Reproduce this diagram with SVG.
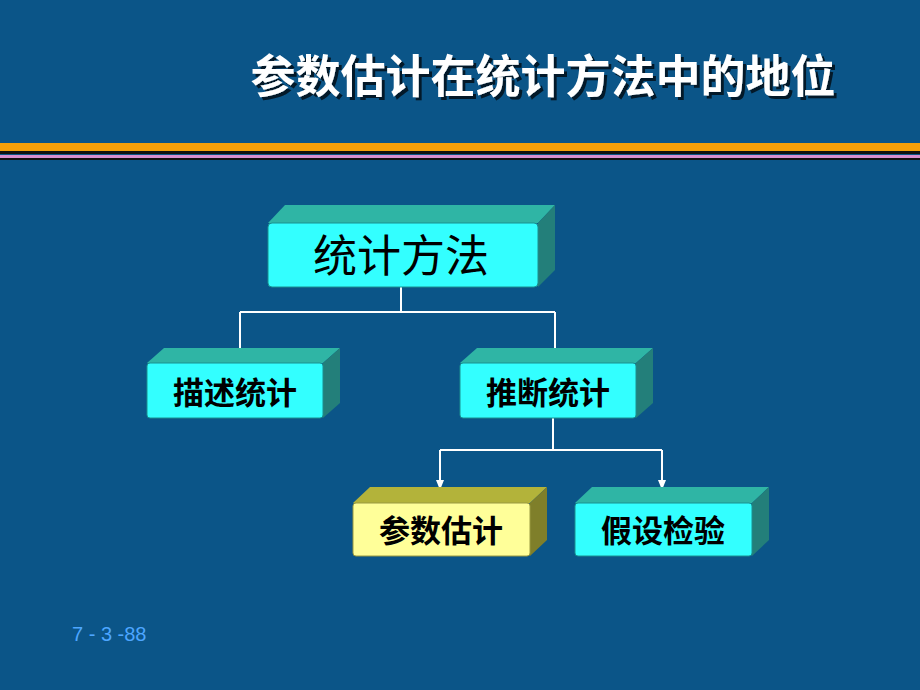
<svg xmlns="http://www.w3.org/2000/svg" width="920" height="690" viewBox="0 0 920 690">
<defs>
<style>
.t{font-family:"Liberation Sans","Noto Sans CJK SC",sans-serif;font-weight:bold;fill:#000;text-anchor:middle}
.f{fill:#33ffff;stroke:#1a9090;stroke-width:1}
.tp{fill:#2fb5a5}
.sd{fill:#237f7a}
.c{stroke:#fff;stroke-width:2;fill:none}
</style>
<filter id="sh" x="-5%" y="-20%" width="110%" height="140%"><feDropShadow dx="3" dy="3" stdDeviation="0.5" flood-color="#000" flood-opacity="0.7"/></filter>
<marker id="a" markerWidth="10" markerHeight="10" refX="9" refY="5" orient="auto" markerUnits="userSpaceOnUse" viewBox="0 0 10 10"><path d="M0,1 L10,5 L0,9 z" fill="#fff"/></marker>
</defs>
<rect width="920" height="690" fill="#0b5588"/>
<text x="543" y="93" font-family="Liberation Sans,Noto Sans CJK SC,sans-serif" font-size="45" font-weight="bold" fill="#fff" text-anchor="middle" filter="url(#sh)">参数估计在统计方法中的地位</text>
<rect x="0" y="143" width="920" height="8" fill="#f5a00a"/>
<rect x="0" y="151" width="920" height="3" fill="#111"/>
<rect x="0" y="155" width="920" height="3" fill="#d98ecf"/>
<rect x="0" y="158" width="920" height="2" fill="#111"/>
<g id="connectors">
<path class="c" d="M401,287 V312 M240,312 H555"/>
<path class="c" d="M240,312 V358" marker-end="url(#a)"/>
<path class="c" d="M555,312 V358" marker-end="url(#a)"/>
<path class="c" d="M553,418 V450 M440,450 H662"/>
<path class="c" d="M440,450 V489" marker-end="url(#a)"/>
<path class="c" d="M662,450 V489" marker-end="url(#a)"/>
</g>
<g id="n1">
<polygon class="tp" points="268,223 285,205 555,205 538,223"/>
<polygon class="sd" points="538,223 555,205 555,270 538,287"/>
<rect class="f" x="268" y="223" width="270" height="64" rx="4"/>
<text class="t" x="401" y="272" font-size="44" style="font-weight:normal">统计方法</text>
</g>
<g id="n2">
<polygon class="tp" points="147,363 164,348 340,348 323,363"/>
<polygon class="sd" points="323,363 340,348 340,403 323,418"/>
<rect class="f" x="147" y="363" width="176" height="55" rx="3"/>
<text class="t" x="235" y="404" font-size="31">描述统计</text>
</g>
<g id="n3">
<polygon class="tp" points="460,363 477,348 653,348 636,363"/>
<polygon class="sd" points="636,363 653,348 653,403 636,418"/>
<rect class="f" x="460" y="363" width="176" height="55" rx="3"/>
<text class="t" x="548" y="404" font-size="31">推断统计</text>
</g>
<g id="n4">
<polygon points="353,503 370,487 547,487 530,503" fill="#b3b33a"/>
<polygon points="530,503 547,487 547,540 530,556" fill="#7f7f2a"/>
<rect x="353" y="503" width="177" height="53" rx="3" fill="#ffff99" stroke="#999940"/>
<text class="t" x="441" y="542" font-size="31">参数估计</text>
</g>
<g id="n5">
<polygon class="tp" points="575,503 592,487 769,487 752,503"/>
<polygon class="sd" points="752,503 769,487 769,540 752,556"/>
<rect class="f" x="575" y="503" width="177" height="53" rx="3"/>
<text class="t" x="663" y="542" font-size="31">假设检验</text>
</g>
<text x="72" y="641" font-family="Liberation Sans,sans-serif" font-size="20" fill="#4da6ff">7 - 3 -88</text>
</svg>
